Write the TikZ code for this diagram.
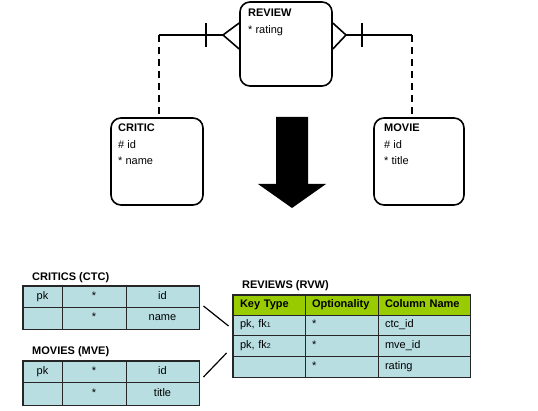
\documentclass[tikz,border=0pt]{standalone}
\usepackage{fontspec}
\setmainfont{Liberation Sans}
\usetikzlibrary{calc}
\definecolor{hdrgreen}{RGB}{153,204,0}
\definecolor{cellblue}{RGB}{184,222,226}
\tikzset{
  entity/.style={draw, line width=1.6pt, rounded corners=10pt, inner sep=0pt},
  etext/.style={anchor=base west, inner sep=0pt, font=\fontsize{11}{13}\selectfont},
  rel/.style={line width=1.6pt},
  reldash/.style={line width=1.6pt, dash pattern=on 7pt off 5pt},
  cell/.style={draw=black!85, fill=cellblue, line width=0.9pt, inner sep=0pt,
    text height=8pt, text depth=2.5pt, font=\fontsize{11}{13}\selectfont},
  hcell/.style={cell, fill=hdrgreen, font=\bfseries\fontsize{11}{13}\selectfont},
  tlabel/.style={anchor=base west, inner sep=0pt, font=\bfseries\fontsize{11}{13}\selectfont},
  tframe/.style={draw=black!85, line width=1.8pt},
  link/.style={line width=1.2pt}
}
\begin{document}
\begin{tikzpicture}[x=1pt,y=-1pt]
\useasboundingbox (0,0) rectangle (538,411);
% entities
\node[entity, minimum width=92pt, minimum height=84pt] (review) at (286,44) {};
\node[entity, minimum width=92pt, minimum height=87pt] (critic) at (157,161.5) {};
\node[entity, minimum width=90pt, minimum height=87pt] (movie) at (419,161.5) {};
\node[etext] (revt) at (248,17) {\textbf{REVIEW}};
\node[etext] (reva) at (248,34) {* rating};
\node[etext] (crit) at (118,132) {\textbf{CRITIC}};
\node[etext] (cria) at (118,148.5) {\# id};
\node[etext] (crib) at (118,165) {* name};
\node[etext] (movt) at (384,132) {\textbf{MOVIE}};
\node[etext] (mova) at (384,148.5) {\# id};
\node[etext] (movb) at (384,165) {* title};
% relationship critic - review
\coordinate (lcorner) at (159,35);
\coordinate (lapex) at (223,35);
\coordinate (lbar) at (206,35);
\draw[rel] (lcorner) -- (lapex);
\draw[rel] (lapex) -- (review.west |- 0,23);
\draw[rel] (lapex) -- (review.west |- 0,49);
\draw[rel] ($(lbar)+(0,-12)$) -- ($(lbar)+(0,12)$);
\draw[reldash] (lcorner) -- (lcorner |- critic.north);
% relationship movie - review
\coordinate (rcorner) at (412,35);
\coordinate (rapex) at (346,35);
\coordinate (rbar) at (362,35);
\draw[rel] (rcorner) -- (rapex);
\draw[rel] (rapex) -- (review.east |- 0,23);
\draw[rel] (rapex) -- (review.east |- 0,49);
\draw[rel] ($(rbar)+(0,-12)$) -- ($(rbar)+(0,12)$);
\draw[reldash] (rcorner) -- (rcorner |- movie.north);
% big arrow
\fill[black] (276,117) -- (308,117) -- (308,184) -- (326,184) -- (292,208) -- (258,184) -- (276,184) -- cycle;
% CRITICS table
\node[tlabel] (ctcl) at (32,281) {CRITICS (CTC)};
\node[cell, minimum width=39pt, minimum height=21pt] (c11) at (42.5,296.5) {pk};
\node[cell, minimum width=64pt, minimum height=21pt] (c12) at (94,296.5) {*};
\node[cell, minimum width=73pt, minimum height=21pt] (c13) at (162.5,296.5) {id};
\node[cell, minimum width=39pt, minimum height=22pt] (c21) at (42.5,318) {};
\node[cell, minimum width=64pt, minimum height=22pt] (c22) at (94,318) {*};
\node[cell, minimum width=73pt, minimum height=22pt] (c23) at (162.5,318) {name};
\draw[tframe] (c11.north west) rectangle (c23.south east);
% MOVIES table
\node[tlabel] (mvel) at (32,355) {MOVIES (MVE)};
\node[cell, minimum width=39pt, minimum height=21pt] (m11) at (42.5,371.5) {pk};
\node[cell, minimum width=64pt, minimum height=21pt] (m12) at (94,371.5) {*};
\node[cell, minimum width=73pt, minimum height=21pt] (m13) at (162.5,371.5) {id};
\node[cell, minimum width=39pt, minimum height=23pt] (m21) at (42.5,393.5) {};
\node[cell, minimum width=64pt, minimum height=23pt] (m22) at (94,393.5) {*};
\node[cell, minimum width=73pt, minimum height=23pt] (m23) at (162.5,393.5) {title};
\draw[tframe] (m11.north west) rectangle (m23.south east);
% REVIEWS table
\node[tlabel] (rvwl) at (242,289) {REVIEWS (RVW)};
\tikzset{rc1/.style={minimum width=72pt, text width=58pt, align=left},
         rc2/.style={minimum width=73pt, text width=59pt, align=left},
         rc3/.style={minimum width=92pt, text width=78pt, align=left}}
\node[hcell, rc1, minimum height=20pt] (h1) at (269,305) {Key Type};
\node[hcell, rc2, minimum height=20pt] (h2) at (341.5,305) {Optionality};
\node[hcell, rc3, minimum height=20pt] (h3) at (424,305) {Column Name};
\node[cell, rc1, minimum height=20pt] (r11) at (269,325) {pk, fk{\scriptsize 1}};
\node[cell, rc2, minimum height=20pt] (r12) at (341.5,325) {*};
\node[cell, rc3, minimum height=20pt] (r13) at (424,325) {ctc\_id};
\node[cell, rc1, minimum height=21pt] (r21) at (269,345.5) {pk, fk{\scriptsize 2}};
\node[cell, rc2, minimum height=21pt] (r22) at (341.5,345.5) {*};
\node[cell, rc3, minimum height=21pt] (r23) at (424,345.5) {mve\_id};
\node[cell, rc1, minimum height=21pt] (r31) at (269,366.5) {};
\node[cell, rc2, minimum height=21pt] (r32) at (341.5,366.5) {*};
\node[cell, rc3, minimum height=21pt] (r33) at (424,366.5) {rating};
\draw[tframe] (h1.north west) rectangle (r33.south east);
% links between tables
\draw[link] ($(c23.east)+(4,-12)$) -- ($(r11.west)+(-4,1)$);
\draw[link] ($(m13.east)+(4,5.5)$) -- ($(r21.west)+(-6,7.5)$);
\end{tikzpicture}
\end{document}
